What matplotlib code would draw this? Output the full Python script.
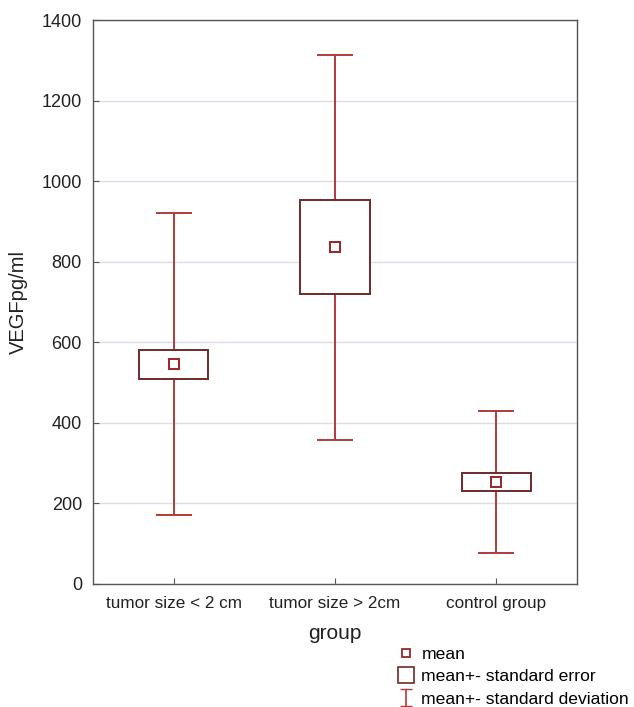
import matplotlib.pyplot as plt
from matplotlib.lines import Line2D
import numpy as np

groups = ["tumor size < 2 cm", "tumor size > 2cm", "control group"]
means = [546, 836, 254]
se = [36, 116, 22]
sd = [375, 478, 176]

whisker_color = "#b23a3a"
box_color = "#6e2a2a"
grid_color = "#dcdce8"

plt.rcParams["font.family"] = ["Liberation Sans", "DejaVu Sans"]

fig = plt.figure(figsize=(6.34, 7.07), dpi=100)
ax = fig.add_axes([0.1467, 0.174, 0.7633, 0.7977])

x = np.arange(len(groups))
means = np.array(means)
se = np.array(se)
sd = np.array(sd)

# whiskers: mean +- standard deviation
ax.errorbar(x, means, yerr=sd, fmt="none", ecolor=whisker_color,
            elinewidth=1.4, capsize=13, capthick=1.4, zorder=2)
# boxes: mean +- standard error
ax.bar(x, 2 * se, bottom=means - se, width=0.43, color="white",
       edgecolor=box_color, linewidth=1.4, zorder=3)
# mean markers
ax.plot(x, means, linestyle="none", marker="s", markersize=7,
        markerfacecolor="white", markeredgecolor="#9a2525",
        markeredgewidth=1.4, zorder=4)

ax.set_xlim(-0.5, 2.5)
ax.set_ylim(0, 1400)
ax.set_yticks(np.arange(0, 1401, 200))
ax.set_xticks(x)
ax.set_xticklabels(groups)
ax.yaxis.grid(True, color=grid_color, linewidth=1)
ax.set_axisbelow(True)

for s in ax.spines.values():
    s.set_color("#555555")
    s.set_linewidth(1)
ax.tick_params(direction="in", length=4, color="#555555",
               labelcolor="#222222")
ax.tick_params(axis="y", pad=8, labelsize=13)
ax.tick_params(axis="x", pad=9, labelsize=12.3)

ax.set_ylabel("VEGFpg/ml", fontsize=14.5, color="#222222", labelpad=10)
ax.set_xlabel("group", fontsize=15, color="#222222", labelpad=9)

# legend
h_mean = Line2D([], [], linestyle="none", marker="s", markersize=6,
                markerfacecolor="white", markeredgecolor="#9a2525",
                markeredgewidth=1.3)
h_se = Line2D([], [], linestyle="none", marker="s", markersize=12,
              markerfacecolor="white", markeredgecolor=box_color,
              markeredgewidth=1.2)
h_sd = ax.errorbar([np.nan], [np.nan], yerr=[1], fmt="none",
                   ecolor=whisker_color, elinewidth=1.2, capsize=4)
fig.legend([h_mean, h_se, h_sd],
           ["mean", "mean+- standard error", "mean+- standard deviation"],
           loc="upper left", bbox_to_anchor=(0.626, 0.085),
           frameon=False, fontsize=12.6, handlelength=1.0,
           handletextpad=0.4, labelspacing=0.4, borderpad=0,
           borderaxespad=0)

fig.savefig("out.png", dpi=100)
